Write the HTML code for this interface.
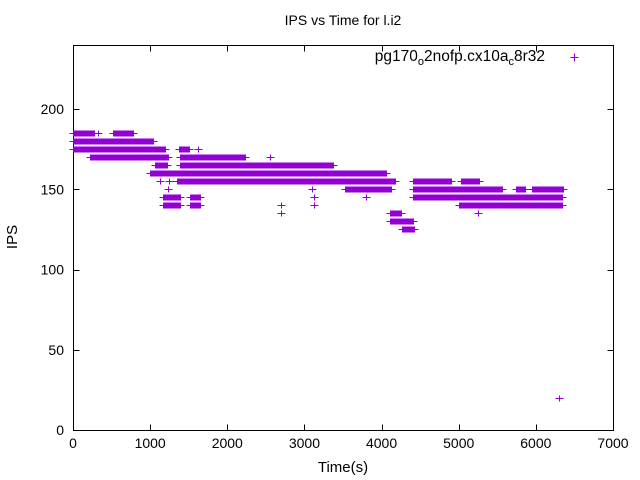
<!DOCTYPE html>
<html><head><meta charset="utf-8"><style>
body{margin:0;background:#fff;}
svg{display:block;font-family:"Liberation Sans",sans-serif;}
</style></head><body>
<svg id="chart" width="640" height="480">
<rect width="640" height="480" fill="#fff"/>
<text x="343" y="25" font-size="14" text-anchor="middle">IPS vs Time for l.i2</text>
<text x="343" y="472" font-size="15" text-anchor="middle">Time(s)</text>
<text transform="translate(17,237) rotate(-90)" font-size="15" text-anchor="middle">IPS</text>
<g id="axes"></g>
<g id="marks"></g>
<g>
<text x="545" y="61" font-size="15.5" text-anchor="end">pg170<tspan font-size="11" dy="4">o</tspan><tspan dy="-4">2nofp.cx10a</tspan><tspan font-size="11" dy="4">c</tspan><tspan dy="-4">8r32</tspan></text>
<path d="M570.5 57.5h8M574.5 53.5v8" stroke="#9400d3" stroke-width="1"/>
</g>
</svg>
<script>
const xTicks=[0,1000,2000,3000,4000,5000,6000,7000];
const yTicks=[0,50,100,150,200];
const bandStart=[0,520,0,0,1380,220,1390,1060,1390,1000,1350,4410,5030,3520,4410,5740,5950,1170,1520,4410,1170,1520,5000,4110,4110,4270];
const bandEnd=[285,780,1040,1190,1500,1230,2230,1220,3370,4060,4170,4910,5260,4130,5570,5870,6350,1390,1650,6350,1390,1650,6350,4260,4420,4420];
const bandValue=[185,185,180,175,175,170,170,165,165,160,155,155,155,150,150,150,150,145,145,145,140,140,140,135,130,125];
const pointTime=[330,2560,2700,2700,3100,3130,3130,3800,1200,1230,1130,1250,1320,1620,4450,5250,6300];
const pointValue=[185,170,140,135,150,145,140,145,160,150,155,155,160,175,145,135,20];
const X=t=>73+t*540/7000, Y=v=>430-v*385/240;
const NS="http://www.w3.org/2000/svg";
const ax=document.getElementById('axes'), mk=document.getElementById('marks');
let d="M73.5 45.5H613.5V430.5H73.5Z";
xTicks.forEach(t=>{const x=Math.round(X(t))+0.5;d+=`M${x} 430.5v-6M${x} 45.5v6`;
 const tx=document.createElementNS(NS,'text');tx.setAttribute('x',X(t));tx.setAttribute('y',448);tx.setAttribute('font-size','14');tx.setAttribute('text-anchor','middle');tx.textContent=t;
 
 
 ax.appendChild(tx);});
yTicks.forEach(v=>{const y=Math.round(Y(v))+0.5;d+=`M73.5 ${y}h6M613.5 ${y}h-6`;
 const tx=document.createElementNS(NS,'text');tx.setAttribute('x',64);tx.setAttribute('y',Y(v)+5);tx.setAttribute('font-size','14');tx.setAttribute('text-anchor','end');tx.textContent=v;
 
 
 ax.appendChild(tx);});
const bp=document.createElementNS(NS,'path');bp.setAttribute('d',d);bp.setAttribute('stroke','#000');bp.setAttribute('fill','none');


ax.appendChild(bp);
let m="";
const plus=(t,v)=>{const x=Math.round(X(t))+0.5,y=Math.round(Y(v))+0.5;m+=`M${x-4} ${y}h8M${x} ${y-3}v6`;};
for(let i=0;i<bandValue.length;i++){for(let t=bandStart[i];t<=bandEnd[i];t+=12)plus(t,bandValue[i]);}
for(let i=0;i<pointValue.length;i++)plus(pointTime[i],pointValue[i]);
const mp=document.createElementNS(NS,'path');mp.setAttribute('d',m);mp.setAttribute('stroke','#9400d3');mp.setAttribute('fill','none');


mk.appendChild(mp);
</script>
</body></html>
